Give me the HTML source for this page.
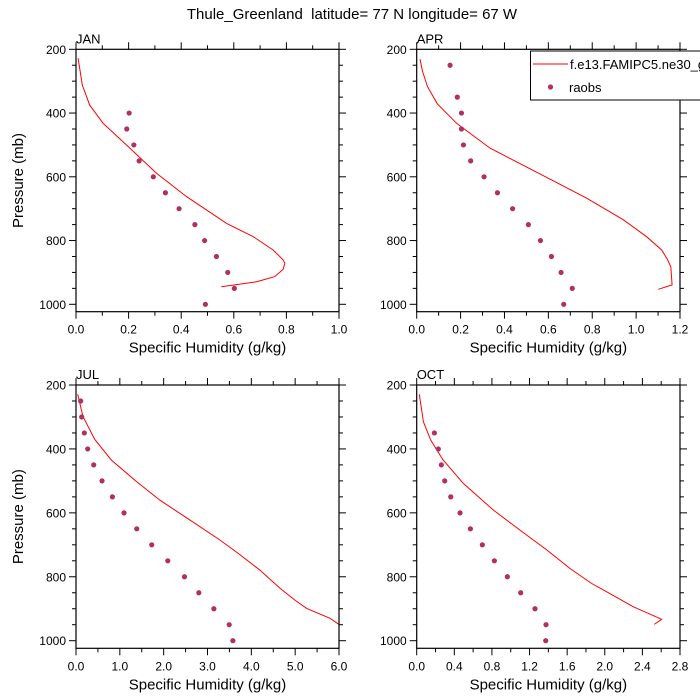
<!DOCTYPE html>
<html><head><meta charset="utf-8"><style>
html,body{margin:0;padding:0;background:#fff;}
svg{display:block;font-family:"Liberation Sans",sans-serif;}
</style></head><body>
<svg id="chart" width="700" height="700" viewBox="0 0 700 700">
<text x="352" y="19" font-size="15" text-anchor="middle">Thule_Greenland&#160; latitude= 77 N longitude= 67 W</text>
</svg>
<script>
const months = ["JAN","APR","JUL","OCT"];
const xMaxes = [1.0, 1.2, 6.0, 2.8];
const xTickLabels = [
 ["0.0","0.2","0.4","0.6","0.8","1.0"],
 ["0.0","0.2","0.4","0.6","0.8","1.0","1.2"],
 ["0.0","1.0","2.0","3.0","4.0","5.0","6.0"],
 ["0.0","0.4","0.8","1.2","1.6","2.0","2.4","2.8"]];
const yTickLabels = [200,400,600,800,1000];
const obsPressure = [250,300,350,400,450,500,550,600,650,700,750,800,850,900,950,1000];
const obsJan = [null,null,null,0.202,0.193,0.22,0.24,0.294,0.34,0.392,0.452,0.489,0.534,0.577,0.602,0.492];
const obsApr = [0.152,null,0.185,0.204,0.204,0.213,0.246,0.307,0.368,0.437,0.509,0.564,0.614,0.658,0.709,0.67];
const obsJul = [0.107,0.13,0.19,0.267,0.404,0.594,0.83,1.096,1.386,1.728,2.094,2.475,2.802,3.145,3.495,3.579];
const obsOct = [null,null,0.188,0.23,0.262,0.298,0.362,0.461,0.571,0.698,0.826,0.964,1.106,1.258,1.375,1.372];
const modJanP = [228,312,375,432,505,589,662,746,788,830,861,871,890,913,929,945];
const modJanQ = [0.008,0.024,0.052,0.103,0.198,0.306,0.42,0.572,0.674,0.75,0.788,0.794,0.788,0.756,0.687,0.553];
const modAprP = [231,270,317,371,432,510,591,667,735,788,830,861,882,939,953];
const modAprQ = [0.015,0.027,0.049,0.094,0.182,0.334,0.562,0.775,0.942,1.048,1.117,1.144,1.158,1.164,1.101];
const modJulP = [229,299,370,435,502,560,622,685,727,779,836,873,899,930,949];
const modJulQ = [0.038,0.16,0.426,0.807,1.378,1.911,2.597,3.282,3.701,4.196,4.653,4.995,5.262,5.795,6.0];
const modOctP = [229,315,372,433,508,591,654,716,774,821,847,894,933,949];
const modOctQ = [0.028,0.071,0.149,0.276,0.496,0.815,1.099,1.382,1.63,1.861,2.02,2.304,2.605,2.527];
const obsSets = [obsJan,obsApr,obsJul,obsOct];
const modP = [modJanP,modAprP,modJulP,modOctP];
const modQ = [modJanQ,modAprQ,modJulQ,modOctQ];

const NS="http://www.w3.org/2000/svg";
const svg=document.getElementById('chart');
function mk(tag,attrs,parent){const e=document.createElementNS(NS,tag);for(const k in attrs)e.setAttribute(k,attrs[k]);(parent||svg).appendChild(e);return e;}
const boxes=[{l:76,r:339,t:49.3,py1000:304.3,b:311.7},{l:416.7,r:680,t:49.3,py1000:304.3,b:311.7},
{l:76,r:339,t:385,py1000:640.7,b:648.3},{l:416.7,r:680,t:385,py1000:640.7,b:648.3}];
months.forEach((m,i)=>{
 const B=boxes[i];
 const g=mk('g',{});
 
 
 const xs=v=>B.l+(B.r-B.l)*v/xMaxes[i];
 const ys=p=>B.t+(B.py1000-B.t)*(p-200)/800;
 const lab=mk('text',{x:B.l,y:B.t-6,'font-size':13},g);lab.textContent=m;
 
 for(let p=200;p<=1000;p+=50){
  const y=ys(p), maj=(p%200===0), L=maj?7:4;
  mk('line',{x1:B.l-L,x2:B.l,y1:y,y2:y,stroke:'#000','stroke-width':1},g);
  mk('line',{x1:B.r,x2:B.r+L,y1:y,y2:y,stroke:'#000','stroke-width':1},g);
 }
 yTickLabels.forEach(p=>{
  const t=mk('text',{x:B.l-10,y:ys(p)+4.5,'font-size':12,'text-anchor':'end'},g);t.textContent=p;
  
 });
 const labs=xTickLabels[i], n=labs.length-1, step=xMaxes[i]/n;
 for(let k=0;k<=n*2;k++){
  const x=xs(k*step/2), maj=k%2===0, L=maj?7:4;
  mk('line',{x1:x,x2:x,y1:B.t-L,y2:B.t,stroke:'#000','stroke-width':1},g);
  mk('line',{x1:x,x2:x,y1:B.b,y2:B.b+L,stroke:'#000','stroke-width':1},g);
 }
 labs.forEach((s,k)=>{
  const t=mk('text',{x:xs(k*step),y:B.b+22,'font-size':12,'text-anchor':'middle'},g);t.textContent=s;
  
 });
 const xt=mk('text',{x:(B.l+B.r)/2,y:B.b+41,'font-size':15,'text-anchor':'middle'},g);
 xt.textContent='Specific Humidity (g/kg)';
 
 if(i%2===0){
  const cy=(B.t+B.b)/2;
  const yt=mk('text',{x:23,y:cy,'font-size':15,'text-anchor':'middle',transform:'rotate(-90 23 '+cy+')'},g);
  yt.textContent='Pressure (mb)';
  
 }
 const pts=modP[i].map((p,k)=>xs(modQ[i][k]).toFixed(1)+','+ys(p).toFixed(1)).join(' ');
 const pl=mk('polyline',{points:pts,fill:'none',stroke:'#ff0000','stroke-width':1},g);
 
 obsSets[i].forEach((q,k)=>{
  if(q===null)return;
  const c=mk('circle',{cx:xs(q),cy:ys(obsPressure[k]),r:2.6,fill:'#b03060'},g);
  
 });
 const fr=mk('rect',{x:B.l,y:B.t,width:B.r-B.l,height:B.b-B.t,fill:'none',stroke:'#000','stroke-width':1.2},g);
 
});
const lg=mk('g',{});

mk('rect',{x:530.5,y:51,width:190,height:49,fill:'#fff',stroke:'#000','stroke-width':1},lg);
const le1=mk('line',{x1:533,x2:568,y1:64,y2:64,stroke:'#ff0000','stroke-width':1},lg);

const t1=mk('text',{x:570,y:69,'font-size':13},lg);t1.textContent='f.e13.FAMIPC5.ne30_g16';

const le2=mk('circle',{cx:550.5,cy:87,r:2.6,fill:'#b03060'},lg);

const t2=mk('text',{x:569,y:92,'font-size':13},lg);t2.textContent='raobs';

</script>
</body></html>
